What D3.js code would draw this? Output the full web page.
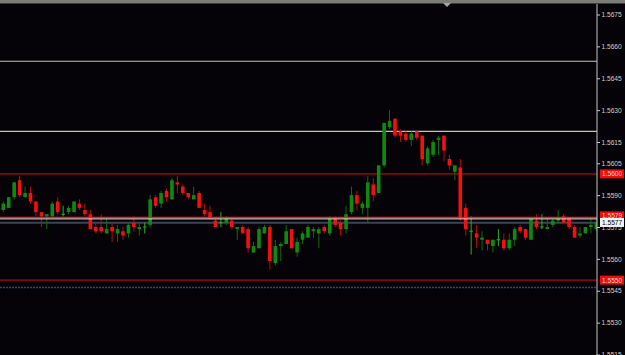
<!DOCTYPE html>
<html>
<head>
<meta charset="utf-8">
<script src="https://cdn.jsdelivr.net/npm/d3@7"></script>
<style>
  html, body { margin: 0; padding: 0; background: #050307; }
  svg { display: block; }
</style>
</head>
<body>
<svg width="625" height="355"></svg>
<script>
// OHLC prices, one entry per bar (left to right)
const opens = [
  1.5583, 1.5584, 1.5589, 1.5597, 1.5589, 1.5591, 1.5587, 1.5582, 1.5580, 1.5580,
  1.5587, 1.5581, 1.5582, 1.5582, 1.5586, 1.5583, 1.5581, 1.5575, 1.5575, 1.5572,
  1.5575, 1.5572, 1.5573, 1.5572, 1.5577, 1.5574, 1.5575, 1.5576, 1.5589, 1.5586,
  1.5592, 1.5588, 1.5596, 1.5594, 1.5591, 1.5588, 1.5591, 1.5583, 1.5582, 1.5578,
  1.5577, 1.5577, 1.5578, 1.5574, 1.5575, 1.5574, 1.5563, 1.5565, 1.5572, 1.5575,
  1.5558, 1.5566, 1.5567, 1.5574, 1.5563, 1.5569, 1.5570, 1.5573, 1.5572, 1.5575,
  1.5572, 1.5579, 1.5577, 1.5574, 1.5582, 1.5590, 1.5584, 1.5584, 1.5595, 1.5591,
  1.5604, 1.5622, 1.5626, 1.5620, 1.5619, 1.5616, 1.5620, 1.5618, 1.5605, 1.5609,
  1.5616, 1.5618, 1.5607, 1.5601, 1.5603, 1.5584, 1.5573, 1.5572, 1.5569, 1.5569,
  1.5566, 1.5569, 1.5569, 1.5565, 1.5569, 1.5575, 1.5574, 1.5569, 1.5578, 1.5575,
  1.5574, 1.5576, 1.5578, 1.5580, 1.5579, 1.5575, 1.5571, 1.5572, 1.5575, 1.5574
];
const highs = [
  1.5587, 1.5589, 1.5596, 1.5599, 1.5594, 1.5594, 1.5587, 1.5582, 1.5581, 1.5587,
  1.5589, 1.5585, 1.5585, 1.5587, 1.5588, 1.5586, 1.5583, 1.5577, 1.5581, 1.5579,
  1.5577, 1.5576, 1.5575, 1.5577, 1.5580, 1.5577, 1.5577, 1.5590, 1.5590, 1.5592,
  1.5593, 1.5598, 1.5599, 1.5595, 1.5591, 1.5594, 1.5592, 1.5586, 1.5585, 1.5579,
  1.5582, 1.5580, 1.5579, 1.5575, 1.5576, 1.5575, 1.5568, 1.5575, 1.5576, 1.5576,
  1.5569, 1.5568, 1.5576, 1.5574, 1.5570, 1.5573, 1.5576, 1.5575, 1.5575, 1.5576,
  1.5580, 1.5580, 1.5578, 1.5585, 1.5594, 1.5592, 1.5587, 1.5599, 1.5598, 1.5604,
  1.5624, 1.5630, 1.5626, 1.5621, 1.5620, 1.5620, 1.5620, 1.5618, 1.5613, 1.5616,
  1.5618, 1.5618, 1.5609, 1.5604, 1.5607, 1.5586, 1.5580, 1.5576, 1.5573, 1.5569,
  1.5569, 1.5574, 1.5572, 1.5572, 1.5575, 1.5576, 1.5574, 1.5579, 1.5581, 1.5581,
  1.5579, 1.5579, 1.5583, 1.5581, 1.5579, 1.5576, 1.5575, 1.5575, 1.5579, 1.5579
];
const lows = [
  1.5582, 1.5584, 1.5588, 1.5589, 1.5589, 1.5586, 1.5580, 1.5575, 1.5574, 1.5580,
  1.5581, 1.5580, 1.5581, 1.5582, 1.5583, 1.5580, 1.5574, 1.5572, 1.5572, 1.5572,
  1.5568, 1.5568, 1.5569, 1.5570, 1.5573, 1.5571, 1.5572, 1.5575, 1.5584, 1.5584,
  1.5587, 1.5588, 1.5591, 1.5590, 1.5588, 1.5588, 1.5584, 1.5580, 1.5579, 1.5575,
  1.5575, 1.5576, 1.5574, 1.5569, 1.5572, 1.5563, 1.5563, 1.5565, 1.5572, 1.5555,
  1.5557, 1.5559, 1.5567, 1.5565, 1.5561, 1.5567, 1.5570, 1.5570, 1.5565, 1.5572,
  1.5571, 1.5575, 1.5571, 1.5572, 1.5581, 1.5583, 1.5581, 1.5577, 1.5587, 1.5591,
  1.5603, 1.5621, 1.5617, 1.5615, 1.5615, 1.5613, 1.5616, 1.5604, 1.5604, 1.5608,
  1.5609, 1.5606, 1.5602, 1.5597, 1.5578, 1.5571, 1.5562, 1.5565, 1.5564, 1.5564,
  1.5563, 1.5566, 1.5564, 1.5564, 1.5566, 1.5572, 1.5569, 1.5569, 1.5574, 1.5574,
  1.5574, 1.5575, 1.5577, 1.5577, 1.5574, 1.5570, 1.5570, 1.5572, 1.5572, 1.5573
];
const closes = [
  1.5586, 1.5589, 1.5596, 1.5590, 1.5591, 1.5587, 1.5582, 1.5580, 1.5581, 1.5586,
  1.5582, 1.5581, 1.5584, 1.5587, 1.5584, 1.5581, 1.5574, 1.5573, 1.5573, 1.5574,
  1.5573, 1.5574, 1.5571, 1.5576, 1.5575, 1.5575, 1.5575, 1.5588, 1.5585, 1.5591,
  1.5589, 1.5597, 1.5595, 1.5591, 1.5589, 1.5590, 1.5584, 1.5581, 1.5579, 1.5575,
  1.5577, 1.5579, 1.5575, 1.5575, 1.5572, 1.5565, 1.5566, 1.5574, 1.5575, 1.5559,
  1.5566, 1.5567, 1.5573, 1.5565, 1.5568, 1.5572, 1.5575, 1.5574, 1.5574, 1.5573,
  1.5579, 1.5576, 1.5574, 1.5581, 1.5590, 1.5586, 1.5586, 1.5596, 1.5590, 1.5604,
  1.5624, 1.5625, 1.5618, 1.5618, 1.5616, 1.5619, 1.5617, 1.5607, 1.5612, 1.5615,
  1.5617, 1.5611, 1.5604, 1.5604, 1.5579, 1.5574, 1.5573, 1.5570, 1.5570, 1.5567,
  1.5569, 1.5569, 1.5565, 1.5569, 1.5574, 1.5573, 1.5570, 1.5579, 1.5575, 1.5575,
  1.5575, 1.5578, 1.5579, 1.5577, 1.5575, 1.5570, 1.5572, 1.5575, 1.5576, 1.5577
];

// price axis labels
const tickVals = [1.5675, 1.5660, 1.5645, 1.5630, 1.5615, 1.5605, 1.5590, 1.5575, 1.5560, 1.5545, 1.5530, 1.5515];

// horizontal line objects
const greyLevels = [1.5653, 1.5620];
const redLevels = [1.5600, 1.5550];
const mainLevel = 1.5579;
const bidPrice = 1.5577;
const blueLevel = 1.55465;

const W = 625, H = 355, plotRight = 597;
const svg = d3.select("svg");

const bars = opens.map((o, i) => ({ i, o, h: highs[i], l: lows[i], c: closes[i] }));

const x = d3.scaleLinear().domain([0, bars.length - 1]).range([3.3, 596.3]);
const y = d3.scaleLinear().domain([1.5515, 1.5675]).range([354.5, 14.5]);

svg.append("rect").attr("width", W).attr("height", H).attr("fill", "#050307");

svg.append("defs").append("clipPath").attr("id", "plot")
  .append("rect").attr("x", 0).attr("y", 4).attr("width", plotRight).attr("height", H - 4);

const plot = svg.append("g").attr("clip-path", "url(#plot)");

// level lines
plot.selectAll(".grey").data(greyLevels).join("line")
  .attr("x1", 0).attr("x2", plotRight)
  .attr("y1", d => y(d)).attr("y2", d => y(d))
  .attr("stroke", "#c9c2b2").attr("stroke-width", 1.2);

plot.selectAll(".dred").data(redLevels).join("line")
  .attr("x1", 0).attr("x2", plotRight)
  .attr("y1", d => y(d)).attr("y2", d => y(d))
  .attr("stroke", "#7c0a0a").attr("stroke-width", 1.6);

plot.append("line")
  .attr("x1", 0).attr("x2", plotRight)
  .attr("y1", y(blueLevel)).attr("y2", y(blueLevel))
  .attr("stroke", "#2e4a6a").attr("stroke-width", 1.4).attr("stroke-dasharray", "2,1");

plot.append("line")
  .attr("x1", 0).attr("x2", plotRight)
  .attr("y1", y(bidPrice)).attr("y2", y(bidPrice))
  .attr("stroke", "#3a4656").attr("stroke-width", 1.8);

// candles
const up = "#0e8a0e", upWick = "#0b6e0b", dn = "#f21010", dnWick = "#b80c0c", doji = "#22b422";

const g = plot.selectAll(".bar").data(bars).join("g");

g.append("line")
  .attr("x1", d => x(d.i)).attr("x2", d => x(d.i))
  .attr("y1", d => y(d.h)).attr("y2", d => y(d.l))
  .attr("stroke", d => d.c === d.o ? doji : d.c > d.o ? upWick : dnWick)
  .attr("stroke-width", 1);

g.filter(d => d.c !== d.o).append("rect")
  .attr("x", d => x(d.i) - 1.8).attr("width", 3.6)
  .attr("y", d => y(Math.max(d.o, d.c)))
  .attr("height", d => Math.abs(y(d.o) - y(d.c)))
  .attr("fill", d => d.c > d.o ? up : dn);

g.filter(d => d.c === d.o).append("line")
  .attr("x1", d => x(d.i) - 1.8).attr("x2", d => x(d.i) + 1.8)
  .attr("y1", d => y(d.c)).attr("y2", d => y(d.c))
  .attr("stroke", doji).attr("stroke-width", 1);

// the active horizontal line sits on top of the candles
plot.append("line")
  .attr("x1", 0).attr("x2", plotRight)
  .attr("y1", y(mainLevel) - 1).attr("y2", y(mainLevel) - 1)
  .attr("stroke", "#ff1a1a").attr("stroke-width", 1.3);
plot.append("line")
  .attr("x1", 0).attr("x2", plotRight)
  .attr("y1", y(mainLevel) + 0.4).attr("y2", y(mainLevel) + 0.4)
  .attr("stroke", "#f2dede").attr("stroke-width", 1);

// price axis
const axis = svg.append("g")
  .attr("transform", `translate(${plotRight},0)`)
  .call(d3.axisRight(y).tickValues(tickVals).tickSize(3).tickSizeOuter(0).tickPadding(1.5)
    .tickFormat(d3.format(".4f")));
axis.select(".domain").remove();
axis.selectAll("line").attr("stroke", "#c8c8c8");
axis.selectAll("text")
  .attr("fill", "#cfcfcf")
  .style("font-family", "'Liberation Sans', Arial, sans-serif")
  .style("font-size", "6.6px");

svg.append("line")
  .attr("x1", plotRight).attr("x2", plotRight).attr("y1", 4).attr("y2", H)
  .attr("stroke", "#c4c4c4").attr("stroke-width", 1);

// price tags on the axis
function tag(v, dy, bg, fg) {
  const cy = y(v) + dy;
  svg.append("rect").attr("x", 600).attr("y", cy - 4.5).attr("width", 24).attr("height", 9).attr("fill", bg);
  svg.append("text").attr("x", 602).attr("y", cy + 2.4).text(d3.format(".4f")(v))
    .attr("fill", fg)
    .style("font-family", "'Liberation Sans', Arial, sans-serif")
    .style("font-size", "6.6px");
}
redLevels.forEach(v => tag(v, 0, "#ee0c0c", "#ffd6d6"));
tag(mainLevel, -2.6, "#ee0c0c", "#ffd6d6");
tag(bidPrice, -0.3, "#f4f4f4", "#000");

// top strip with shift marker
svg.append("rect").attr("x", 0).attr("y", 0).attr("width", W).attr("height", 3).attr("fill", "#7d7d78");
svg.append("line").attr("x1", 0).attr("x2", W).attr("y1", 3.5).attr("y2", 3.5).attr("stroke", "#3c3c3c");
svg.append("path").attr("d", "M443,3 L451,3 L447,7 Z").attr("fill", "#9aa6b4");
</script>
</body>
</html>
